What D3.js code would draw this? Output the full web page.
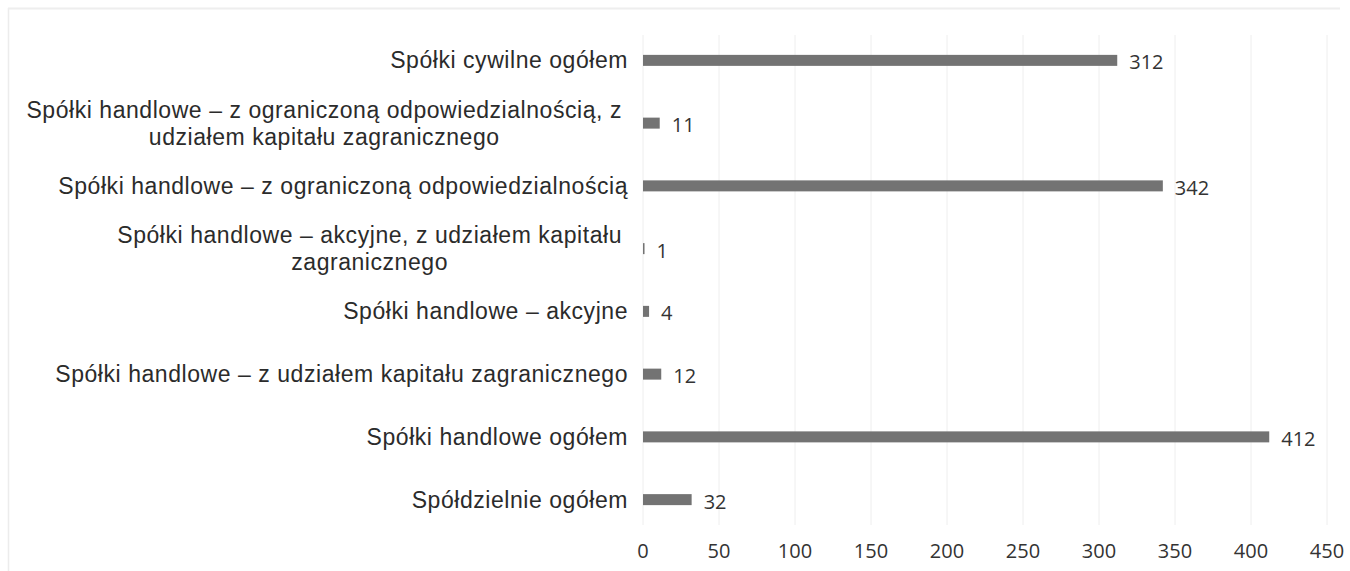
<!DOCTYPE html>
<html>
<head>
<meta charset="utf-8">
<script src="https://cdn.jsdelivr.net/npm/d3@7"></script>
<style>
  body { margin: 0; background: #fff; }
  svg { display: block; }
</style>
</head>
<body>
<svg width="1350" height="571"></svg>
<script>
// categories top to bottom, as in the picture
var categories = [
  ["Spółki cywilne ogółem"],
  ["Spółki handlowe – z ograniczoną odpowiedzialnością, z", "udziałem kapitału zagranicznego"],
  ["Spółki handlowe – z ograniczoną odpowiedzialnością"],
  ["Spółki handlowe – akcyjne, z udziałem kapitału", "zagranicznego"],
  ["Spółki handlowe – akcyjne"],
  ["Spółki handlowe – z udziałem kapitału zagranicznego"],
  ["Spółki handlowe ogółem"],
  ["Spółdzielnie ogółem"]
];
var values = [312, 11, 342, 1, 4, 12, 412, 32];
var xTicks = [0, 50, 100, 150, 200, 250, 300, 350, 400, 450];

var svg = d3.select("svg"),
    width = +svg.attr("width"),
    height = +svg.attr("height");

var x = d3.scaleLinear().domain([0, 450]).range([643, 1327]);
var y = d3.scaleBand().domain(d3.range(categories.length)).range([29, 531]).paddingInner(0.84).paddingOuter(0.42);

// faint frame like the scanned page
svg.append("line").attr("x1", 8.5).attr("x2", 8.5).attr("y1", 8).attr("y2", 571)
  .attr("stroke", "#ececec").attr("stroke-width", 1.5);
svg.append("line").attr("x1", 8).attr("x2", 1340).attr("y1", 8.5).attr("y2", 8.5)
  .attr("stroke", "#eeeeee").attr("stroke-width", 2);

// gridlines
svg.append("g").selectAll("line")
  .data(xTicks)
  .enter().append("line")
    .attr("x1", function(d) { return x(d); })
    .attr("x2", function(d) { return x(d); })
    .attr("y1", 35).attr("y2", 525)
    .attr("stroke", "#eeeeee")
    .attr("stroke-width", 1);

// bars
svg.append("g").selectAll("rect")
  .data(values)
  .enter().append("rect")
    .attr("x", x(0))
    .attr("y", function(d, i) { return y(i) + y.bandwidth() / 2 - 5.5; })
    .attr("width", function(d) { return x(d) - x(0); })
    .attr("height", 11)
    .attr("fill", "#737373");

// value labels
svg.append("g").selectAll("text")
  .data(values)
  .enter().append("text")
    .attr("x", function(d) { return x(d) + 12; })
    .attr("y", function(d, i) { return y(i) + y.bandwidth() / 2 + 2; })
    .attr("dy", "0.35em")
    .attr("font-family", "'Open Sans', sans-serif")
    .attr("font-size", 20)
    .attr("fill", "#333")
    .text(function(d) { return d; });

// category labels
var labelRight = 628;
var lab = svg.append("g").selectAll("g")
  .data(categories)
  .enter().append("text")
    .attr("font-family", "'Liberation Sans', Arial, sans-serif")
    .attr("font-size", 23)
    .attr("letter-spacing", 0.55)
    .attr("fill", "#2b2b2b");

lab.each(function(lines, i) {
  var t = d3.select(this);
  var cy = y(i) + y.bandwidth() / 2;
  var lh = 27;
  var top = cy - (lines.length - 1) * lh / 2;
  var spans = lines.map(function(s, j) {
    return t.append("tspan").attr("y", top + j * lh).attr("dy", "0.35em").text(s);
  });
  if (lines.length === 1) {
    t.attr("text-anchor", "end");
    spans[0].attr("x", labelRight);
  } else {
    var maxW = d3.max(spans, function(s) { return s.node().getComputedTextLength(); });
    t.attr("text-anchor", "middle");
    spans.forEach(function(s) { s.attr("x", labelRight - 6 - maxW / 2); });
  }
});

// x axis tick labels
svg.append("g").selectAll("text")
  .data(xTicks)
  .enter().append("text")
    .attr("x", function(d) { return x(d); })
    .attr("y", 551)
    .attr("dy", "0.35em")
    .attr("text-anchor", "middle")
    .attr("font-family", "'Open Sans', sans-serif")
    .attr("font-size", 20)
    .attr("fill", "#333")
    .text(function(d) { return d; });
</script>
</body>
</html>
